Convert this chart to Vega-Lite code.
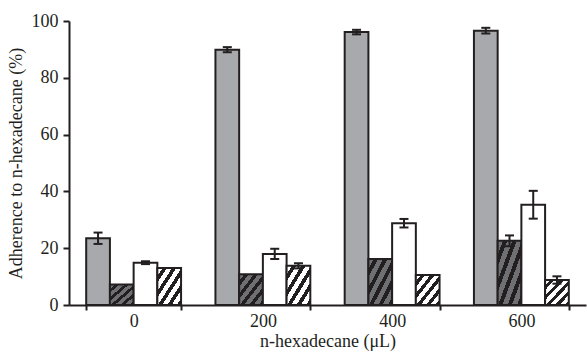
{
  "$schema": "https://vega.github.io/schema/vega-lite/v6.json",
  "width": 517,
  "height": 284,
  "autosize": {"type": "none"},
  "padding": {"left": 69, "top": 21, "right": 1, "bottom": 47},
  "background": "white",
  "config": {
    "view": {"stroke": null},
    "axis": {
      "labelFont": "Liberation Serif",
      "titleFont": "Liberation Serif",
      "labelFontSize": 18,
      "titleFontSize": 18,
      "titleFontWeight": "normal",
      "labelColor": "#231f20",
      "titleColor": "#231f20",
      "domainColor": "#231f20",
      "tickColor": "#231f20",
      "domainWidth": 2,
      "tickWidth": 2,
      "grid": false
    }
  },
  "data": {
    "values": [
      {"dose": "0", "series": "S1", "value": 23.5, "lo": 21.5, "hi": 25.5},
      {"dose": "0", "series": "S2", "value": 7.2},
      {"dose": "0", "series": "S3", "value": 14.9, "lo": 14.4, "hi": 15.4},
      {"dose": "0", "series": "S4", "value": 13.0},
      {"dose": "200", "series": "S1", "value": 89.9, "lo": 89.0, "hi": 90.8},
      {"dose": "200", "series": "S2", "value": 10.8},
      {"dose": "200", "series": "S3", "value": 18.0, "lo": 16.2, "hi": 19.8},
      {"dose": "200", "series": "S4", "value": 13.8, "lo": 12.9, "hi": 14.7},
      {"dose": "400", "series": "S1", "value": 96.1, "lo": 95.3, "hi": 96.9},
      {"dose": "400", "series": "S2", "value": 16.2},
      {"dose": "400", "series": "S3", "value": 28.8, "lo": 27.3, "hi": 30.3},
      {"dose": "400", "series": "S4", "value": 10.6},
      {"dose": "600", "series": "S1", "value": 96.6, "lo": 95.6, "hi": 97.6},
      {"dose": "600", "series": "S2", "value": 22.6, "lo": 20.7, "hi": 24.5},
      {"dose": "600", "series": "S3", "value": 35.3, "lo": 30.4, "hi": 40.2},
      {"dose": "600", "series": "S4", "value": 8.8, "lo": 7.5, "hi": 10.1}
    ]
  },
  "encoding": {
    "x": {
      "field": "dose",
      "type": "nominal",
      "sort": ["0", "200", "400", "600"],
      "scale": {"paddingInner": 0.266, "paddingOuter": 0.133},
      "axis": {
        "title": "n-hexadecane (μL)",
        "labelAngle": 0,
        "tickBand": "extent",
        "tickSize": 5,
        "labelPadding": 2,
        "titlePadding": 2
      }
    },
    "xOffset": {
      "field": "series",
      "type": "nominal",
      "scale": {"domain": ["S1", "S2", "S3", "S4"], "paddingInner": 0, "paddingOuter": 0}
    }
  },
  "layer": [
    {
      "transform": [{"filter": "datum.series == 'S1'"}],
      "mark": {"type": "bar", "fill": "#a7a9ac", "stroke": "#231f20", "strokeWidth": 2},
      "encoding": {
        "y": {
          "field": "value",
          "type": "quantitative",
          "scale": {"domain": [0, 100]},
          "axis": {
            "title": "Adherence to n-hexadecane (%)",
            "values": [0, 20, 40, 60, 80, 100],
            "tickSize": 6,
            "labelPadding": 5,
            "titlePadding": 6
          }
        }
      }
    },
    {
      "transform": [{"filter": "datum.series == 'S2'"}],
      "mark": {
        "type": "bar",
        "stroke": "#231f20",
        "strokeWidth": 2,
        "fill": {
          "gradient": "linear", "x1": 0, "y1": 0, "x2": 1, "y2": 1,
          "stops": [
            {"offset": 0, "color": "#6f7073"}, {"offset": 0.11, "color": "#6f7073"},
            {"offset": 0.11, "color": "#231f20"}, {"offset": 0.2, "color": "#231f20"},
            {"offset": 0.2, "color": "#6f7073"}, {"offset": 0.31, "color": "#6f7073"},
            {"offset": 0.31, "color": "#231f20"}, {"offset": 0.4, "color": "#231f20"},
            {"offset": 0.4, "color": "#6f7073"}, {"offset": 0.51, "color": "#6f7073"},
            {"offset": 0.51, "color": "#231f20"}, {"offset": 0.6, "color": "#231f20"},
            {"offset": 0.6, "color": "#6f7073"}, {"offset": 0.71, "color": "#6f7073"},
            {"offset": 0.71, "color": "#231f20"}, {"offset": 0.8, "color": "#231f20"},
            {"offset": 0.8, "color": "#6f7073"}, {"offset": 0.91, "color": "#6f7073"},
            {"offset": 0.91, "color": "#231f20"}, {"offset": 1, "color": "#231f20"}
          ]
        }
      },
      "encoding": {"y": {"field": "value", "type": "quantitative"}}
    },
    {
      "transform": [{"filter": "datum.series == 'S3'"}],
      "mark": {"type": "bar", "fill": "#ffffff", "stroke": "#231f20", "strokeWidth": 2},
      "encoding": {"y": {"field": "value", "type": "quantitative"}}
    },
    {
      "transform": [{"filter": "datum.series == 'S4'"}],
      "mark": {
        "type": "bar",
        "stroke": "#231f20",
        "strokeWidth": 2,
        "fill": {
          "gradient": "linear", "x1": 0, "y1": 0, "x2": 1, "y2": 1,
          "stops": [
            {"offset": 0, "color": "#ffffff"}, {"offset": 0.11, "color": "#ffffff"},
            {"offset": 0.11, "color": "#231f20"}, {"offset": 0.2, "color": "#231f20"},
            {"offset": 0.2, "color": "#ffffff"}, {"offset": 0.31, "color": "#ffffff"},
            {"offset": 0.31, "color": "#231f20"}, {"offset": 0.4, "color": "#231f20"},
            {"offset": 0.4, "color": "#ffffff"}, {"offset": 0.51, "color": "#ffffff"},
            {"offset": 0.51, "color": "#231f20"}, {"offset": 0.6, "color": "#231f20"},
            {"offset": 0.6, "color": "#ffffff"}, {"offset": 0.71, "color": "#ffffff"},
            {"offset": 0.71, "color": "#231f20"}, {"offset": 0.8, "color": "#231f20"},
            {"offset": 0.8, "color": "#ffffff"}, {"offset": 0.91, "color": "#ffffff"},
            {"offset": 0.91, "color": "#231f20"}, {"offset": 1, "color": "#231f20"}
          ]
        }
      },
      "encoding": {"y": {"field": "value", "type": "quantitative"}}
    },
    {
      "transform": [{"filter": "isValid(datum.lo)"}],
      "mark": {"type": "rule", "color": "#231f20", "strokeWidth": 2},
      "encoding": {
        "y": {"field": "lo", "type": "quantitative"},
        "y2": {"field": "hi"}
      }
    },
    {
      "transform": [{"filter": "isValid(datum.lo)"}],
      "mark": {"type": "tick", "color": "#231f20", "thickness": 2, "size": 9, "opacity": 1},
      "encoding": {"y": {"field": "lo", "type": "quantitative"}}
    },
    {
      "transform": [{"filter": "isValid(datum.lo)"}],
      "mark": {"type": "tick", "color": "#231f20", "thickness": 2, "size": 9, "opacity": 1},
      "encoding": {"y": {"field": "hi", "type": "quantitative"}}
    }
  ]
}
